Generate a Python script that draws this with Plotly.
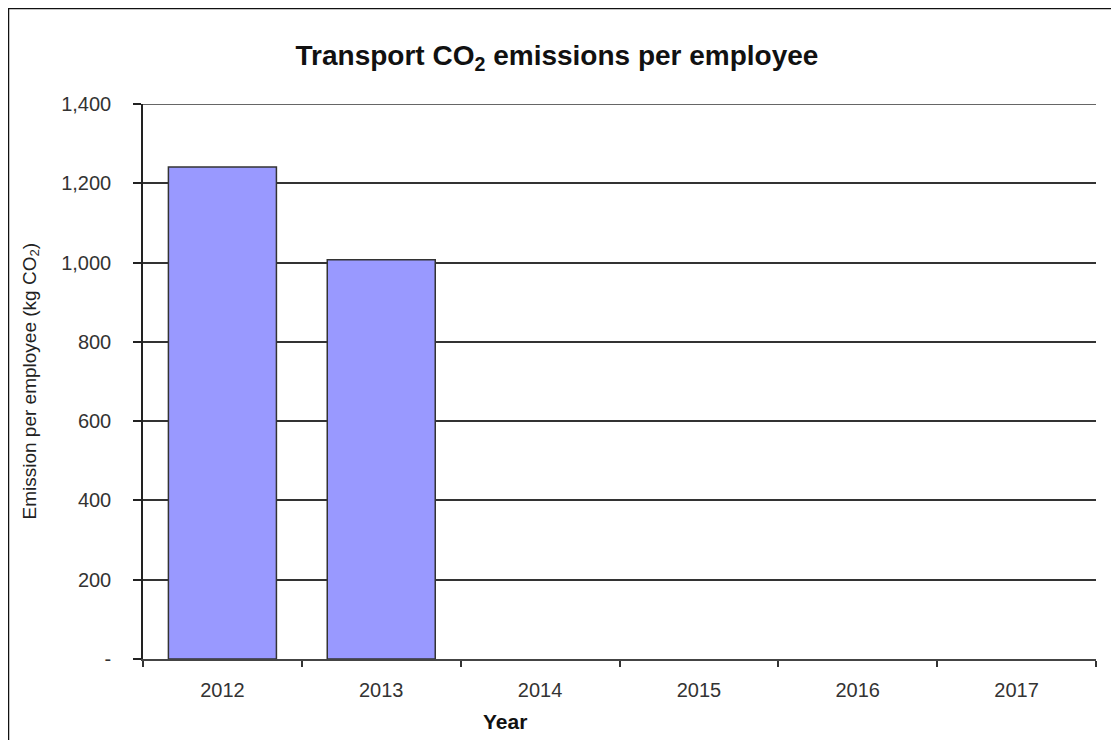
import plotly.graph_objects as go

years = ["2012", "2013", "2014", "2015", "2016", "2017"]
emissions = [1241, 1007, None, None, None, None]
y_tick_vals = [0, 200, 400, 600, 800, 1000, 1200, 1400]
y_tick_text = ["-", "200", "400", "600", "800", "1,000", "1,200", "1,400"]
y_max = 1400

OFF = 8  # page body margin offset
W, H = 1119 - OFF, 740 - OFF
L, R, T, B = 143 - OFF, 23, 104 - OFF, 81
pw, ph = W - L - R, H - T - B

def px(x):
    return (x - OFF - L) / pw

def py(y):
    return (H - B - (y - OFF)) / ph

FONT = "Liberation Sans, Arial, sans-serif"

fig = go.Figure()
fig.add_trace(go.Bar(
    x=years, y=emissions,
    marker=dict(color="#9999FF", line=dict(color="#333333", width=1.5)),
    showlegend=False, hoverinfo="x+y",
))

fig.update_layout(
    width=W, height=H,
    margin=dict(l=L, r=R, t=T, b=B, pad=0),
    paper_bgcolor="white", plot_bgcolor="white",
    bargap=0.32,
    font=dict(family=FONT, size=20, color="#222222"),
    title=dict(text="<b>Transport CO<sub>2</sub> emissions per employee</b>",
               x=(557 - OFF) / W, xanchor="center", y=1 - (55 - OFF) / H, yanchor="middle",
               xref="container", yref="container",
               font=dict(family=FONT, size=28, color="#111111")),
    xaxis=dict(type="category", categoryorder="array", categoryarray=years,
               range=[-0.5, 5.5], tickson="boundaries", ticks="outside",
               ticklen=6, tickwidth=1.5, tickcolor="#333333",
               showline=True, linecolor="#444444", linewidth=2,
               showgrid=False, ticklabelstandoff=12,
               tickfont=dict(size=20, color="#333333")),
    yaxis=dict(range=[0, y_max], tickvals=y_tick_vals, ticktext=y_tick_text,
               ticks="outside", ticklen=8, tickwidth=1.5, tickcolor="#222222",
               showline=True, linecolor="#222222", linewidth=1.5,
               showgrid=True, gridcolor="#333333", gridwidth=1.5,
               zeroline=False, ticklabelstandoff=18,
               tickfont=dict(size=20, color="#333333")),
)

# top gridline at the range maximum
fig.add_shape(type="line", xref="paper", yref="y", x0=0, x1=1, y0=y_max, y1=y_max,
              line=dict(color="#333333", width=1.5), layer="below")

fig.add_annotation(text="Emission per employee (kg CO<sub>2</sub>)",
                   xref="paper", yref="paper", x=px(30), y=0.5,
                   xanchor="center", yanchor="middle", textangle=-90,
                   showarrow=False, font=dict(family=FONT, size=19, color="#222222"))
fig.add_annotation(text="<b>Year</b>",
                   xref="paper", yref="paper", x=px(505), y=py(721),
                   xanchor="center", yanchor="middle",
                   showarrow=False, font=dict(family=FONT, size=21, color="#111111"))

fig.add_shape(type="rect", xref="paper", yref="paper",
              x0=px(8.5), y0=py(800), x1=px(1200), y1=py(8.5),
              line=dict(color="#111111", width=1.5), fillcolor="rgba(0,0,0,0)",
              layer="above")

fig.write_html("out.html")
